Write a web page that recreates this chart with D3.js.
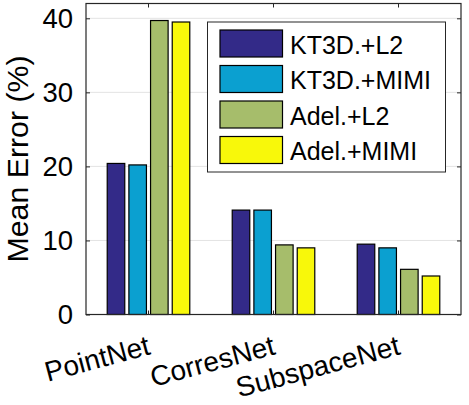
<!DOCTYPE html>
<html>
<head>
<style>
  body { margin: 0; background: #fff; }
  text { font-family: "Liberation Sans", Arial, sans-serif; fill: #000; }
  .grid line { stroke: #e3e3e3; stroke-width: 1px; }
  .bar { stroke: #000; stroke-width: 1.2px; }
</style>
</head>
<body>
<svg id="svg" width="469" height="405"></svg>
<script src="https://d3js.org/d3.v7.min.js"></script>
<script>
// data
const categories = ['PointNet', 'CorresNet', 'SubspaceNet']
const seriesNames = ['KT3D.+L2', 'KT3D.+MIMI', 'Adel.+L2', 'Adel.+MIMI']
const seriesColors = ['#332a88', '#0ba0d0', '#a6bd6b', '#f8f80a']
const values = [
  [20.4, 14.1, 9.5],   // KT3D.+L2
  [20.2, 14.1, 9.0],   // KT3D.+MIMI
  [39.7, 9.4, 6.1],    // Adel.+L2
  [39.5, 9.0, 5.2]     // Adel.+MIMI
]
const yTicks = [0, 10, 20, 30, 40]

// layout (plot box edges)
const pLeft = 86, pRight = 461, pTop = 3.5, pBottom = 314.5
const svg = d3.select('#svg')

const x = d3.scaleBand().domain(categories).range([pLeft, pRight]).padding(0)
const xs = d3.scaleBand().domain(seriesNames).range([-45.4, 45.4]).padding(0.19)
const y = d3.scaleLinear().domain([0, 42]).range([pBottom, pTop])

// gridlines
svg.append('g').attr('class', 'grid')
  .selectAll('line').data(yTicks.slice(1)).enter().append('line')
  .attr('x1', pLeft).attr('x2', pRight)
  .attr('y1', d => y(d)).attr('y2', d => y(d))

// bars
const rows = []
seriesNames.forEach((s, i) => categories.forEach((c, j) => rows.push({ s, i, c, v: values[i][j] })))
svg.append('g').selectAll('rect').data(rows).enter().append('rect')
  .attr('class', 'bar')
  .attr('x', d => x(d.c) + x.bandwidth() / 2 + xs(d.s))
  .attr('width', xs.bandwidth())
  .attr('y', d => y(d.v))
  .attr('height', d => y(0) - y(d.v))
  .attr('fill', d => seriesColors[d.i])

// axes box with inward ticks
const axisColor = '#262626'
const yl = d3.axisRight(y).tickValues(yTicks).tickSize(4).tickFormat('')
const yr = d3.axisLeft(y).tickValues(yTicks).tickSize(4).tickFormat('')
const xb = d3.axisTop(x).tickSize(4).tickFormat('')
const xt = d3.axisBottom(x).tickSize(4).tickFormat('')
svg.append('g').attr('transform', `translate(${pLeft},0)`).call(yl)
svg.append('g').attr('transform', `translate(${pRight},0)`).call(yr)
svg.append('g').attr('transform', `translate(0,${pBottom})`).call(xb)
svg.append('g').attr('transform', `translate(0,${pTop})`).call(xt)
svg.selectAll('.domain').remove()
svg.selectAll('.tick line').attr('stroke', axisColor)
svg.append('rect')
  .attr('x', pLeft).attr('y', pTop)
  .attr('width', pRight - pLeft).attr('height', pBottom - pTop)
  .attr('fill', 'none').attr('stroke', axisColor).attr('stroke-width', 1.2)

// y tick labels
svg.append('g').selectAll('text').data(yTicks).enter().append('text')
  .attr('x', pLeft - 13).attr('y', d => y(d) + 9.7)
  .attr('text-anchor', 'end')
  .style('font-size', '27.5px')
  .text(d => d)

// x tick labels, rotated
svg.append('g').selectAll('text').data(categories).enter().append('text')
  .attr('transform', d => `translate(${x(d) + x.bandwidth() / 2 + 3},354) rotate(-15)`)
  .attr('text-anchor', 'end')
  .style('font-size', '28px')
  .text(d => d)

// y label
svg.append('text')
  .attr('transform', `translate(27.5,${(pTop + pBottom) / 2}) rotate(-90)`)
  .attr('text-anchor', 'middle')
  .style('font-size', '30.3px')
  .text('Mean Error (%)')

// legend
const lg = svg.append('g')
lg.append('rect')
  .attr('x', 207.5).attr('y', 22).attr('width', 238).attr('height', 150)
  .attr('fill', '#fff').attr('stroke', axisColor).attr('stroke-width', 1)
const item = lg.selectAll('.item').data(seriesNames).enter().append('g')
  .attr('transform', (d, i) => `translate(220,${30 + i * 35.5})`)
item.append('rect')
  .attr('width', 62.5).attr('height', 27)
  .attr('fill', (d, i) => seriesColors[i])
  .attr('stroke', '#000').attr('stroke-width', 1.2)
item.append('text')
  .attr('x', 70).attr('y', 23.5)
  .style('font-size', '25px')
  .text(d => d)
</script>
</body>
</html>
